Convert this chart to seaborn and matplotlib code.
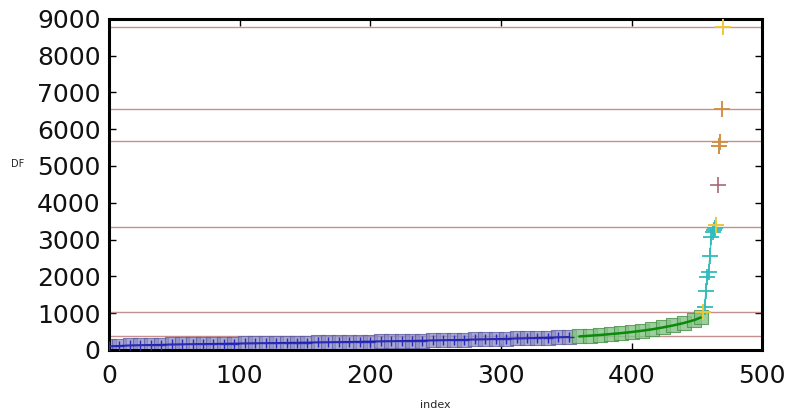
import matplotlib
matplotlib.use("Agg")
import matplotlib.pyplot as plt
import seaborn as sns
import pandas as pd

# ---- data ----
blue_index = list(range(0, 360, 8))
blue_df = [95, 110, 120, 128, 134, 140, 146, 151, 156, 160, 164, 168, 172, 176,
           180, 184, 188, 192, 196, 200, 204, 208, 212, 217, 222, 227, 232, 237,
           242, 247, 252, 258, 264, 270, 276, 282, 289, 296, 303, 310, 318, 326,
           334, 342, 350]

green_index = [360, 368, 376, 384, 392, 400, 408, 416, 424, 432, 440, 448, 453]
green_df = [365, 385, 405, 430, 455, 485, 520, 560, 610, 665, 730, 810, 880]

cyan_index = [456, 457, 458, 459, 460, 461, 462, 463, 464]
cyan_df = [1170, 1610, 1990, 2130, 2540, 3080, 3200, 3250, 3300]

yellow_index = [455, 465, 470]
yellow_df = [1030, 3400, 8780]

purple_index = [466]
purple_df = [4480]

orange_index = [467, 468, 469]
orange_df = [5550, 5650, 6550]

level_lines = [380, 1030, 3350, 5670, 6545, 8790]

x_ticks = [0, 100, 200, 300, 400, 500]
y_ticks = [0, 1000, 2000, 3000, 4000, 5000, 6000, 7000, 8000, 9000]

# ---- figure ----
sns.set_theme(style="white")
plt.rcParams["font.family"] = ["DejaVu Sans"]

fig = plt.figure(figsize=(7.89, 4.19), dpi=100)
ax = fig.add_axes([0.138, 0.165, 0.828, 0.790])

for v in level_lines:
    ax.axhline(v, color="#c49090", lw=1.0, zorder=1)

blue = pd.DataFrame({"index": blue_index, "DF": blue_df})
green = pd.DataFrame({"index": green_index, "DF": green_df})

# blue cluster band
sns.scatterplot(data=blue, x="index", y="DF", marker="s", s=105,
                color="#8e8ec4", alpha=0.75, edgecolor="#5a5aa0",
                linewidth=0.8, ax=ax, zorder=2)
sns.lineplot(data=blue, x="index", y="DF", color="#1c1cb0", lw=1.3,
             ax=ax, zorder=3)
sns.scatterplot(data=blue, x="index", y="DF", marker="+", s=60,
                color="#2a2ab8", linewidth=1.0, ax=ax, zorder=3)

# green cluster band
sns.scatterplot(data=green, x="index", y="DF", marker="s", s=105,
                color="#86c486", alpha=0.8, edgecolor="#4a904a",
                linewidth=0.8, ax=ax, zorder=2)
sns.lineplot(data=green, x="index", y="DF", color="#0a8a0a", lw=1.8,
             ax=ax, zorder=3)

# cyan rise
sns.lineplot(x=cyan_index, y=cyan_df, color="#40c4c4", lw=1.0, ax=ax, zorder=3)
sns.scatterplot(x=cyan_index, y=cyan_df, marker="+", s=120,
                color="#30bcbc", linewidth=1.3, ax=ax, zorder=4)

# outliers
sns.scatterplot(x=yellow_index, y=yellow_df, marker="+", s=130,
                color="#ecc83a", linewidth=1.4, ax=ax, zorder=5)
sns.scatterplot(x=purple_index, y=purple_df, marker="+", s=130,
                color="#a86878", linewidth=1.2, ax=ax, zorder=5)
sns.scatterplot(x=orange_index, y=orange_df, marker="+", s=130,
                color="#d09048", linewidth=1.4, ax=ax, zorder=5)

ax.set_xlim(0, 500)
ax.set_ylim(0, 9000)
ax.set_xticks(x_ticks)
ax.set_yticks(y_ticks)
ax.set_xticklabels([str(t) for t in x_ticks])
ax.set_yticklabels([str(t) for t in y_ticks])

ax.tick_params(axis="both", which="major", direction="in", length=5,
               width=1, labelsize=18, colors="black", top=True, right=True,
               bottom=True, left=True)
ax.tick_params(axis="x", pad=10)
ax.tick_params(axis="y", pad=6)
for lab in ax.get_xticklabels() + ax.get_yticklabels():
    lab.set_color("#111111")

for sp in ax.spines.values():
    sp.set_visible(True)
    sp.set_color("black")
    sp.set_linewidth(2.2)

ax.set_xlabel("index", fontsize=8)
ax.set_ylabel("DF", fontsize=7, rotation=0)
ax.xaxis.set_label_coords(0.5, -0.152)
ax.yaxis.set_label_coords(-0.14, 0.545)

fig.savefig("out.png", dpi=100, facecolor="white")
